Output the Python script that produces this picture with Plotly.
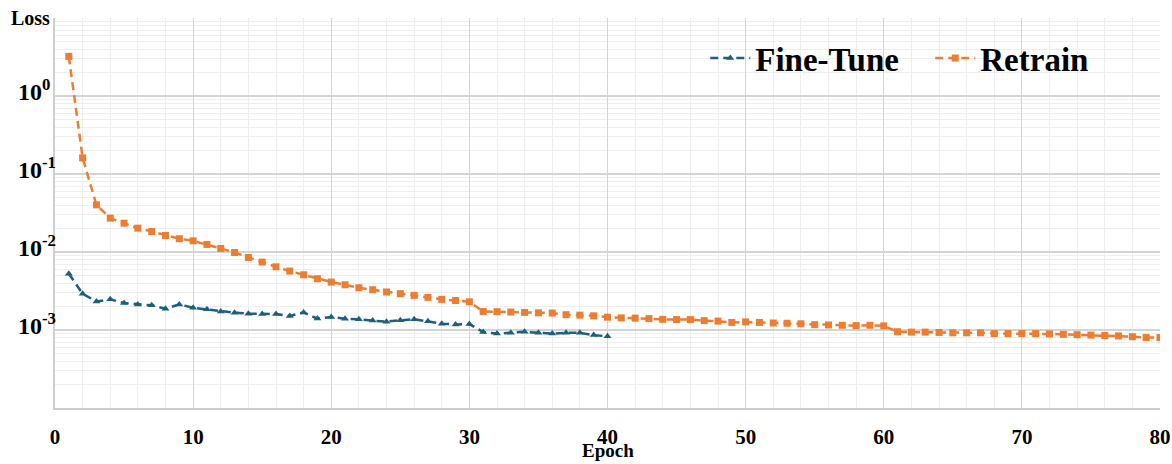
import math
import plotly.graph_objects as go

epochs_ft = list(range(1, 41))
loss_ft = [0.00526, 0.00292, 0.00232, 0.00247, 0.00222, 0.00213, 0.00207, 0.00187, 0.00213, 0.00193,
           0.00184, 0.00173, 0.00167, 0.00162, 0.00160, 0.00160, 0.00151, 0.00168, 0.00140, 0.00147,
           0.00139, 0.00137, 0.00132, 0.00128, 0.00133, 0.00137, 0.00129, 0.00120, 0.00118, 0.00119,
           0.00094, 0.00090, 0.00092, 0.00095, 0.00092, 0.00090, 0.00092, 0.00092, 0.00086, 0.00083]

epochs_rt = list(range(1, 81))
loss_rt = [3.22, 0.161, 0.0402, 0.0272, 0.0234, 0.0202, 0.0183, 0.0163, 0.0148, 0.0139,
           0.0125, 0.0111, 0.00986, 0.00851, 0.00743, 0.00646, 0.00569, 0.0051, 0.00454, 0.00412,
           0.0038, 0.00348, 0.00328, 0.00307, 0.00292, 0.00278, 0.00262, 0.00247, 0.00239, 0.0023,
           0.00173, 0.00172, 0.00170, 0.00168, 0.00166, 0.00165, 0.00157, 0.00155, 0.00152, 0.00146,
           0.00143, 0.00142, 0.00140, 0.00137, 0.00136, 0.00136, 0.00132, 0.00130, 0.00125, 0.00127,
           0.00125, 0.00123, 0.00122, 0.00120, 0.00117, 0.00116, 0.00115, 0.00114, 0.00115, 0.00113,
           0.00095, 0.00094, 0.00094, 0.00093, 0.00092, 0.00092, 0.00092, 0.00090, 0.00090, 0.00090,
           0.00090, 0.00089, 0.00088, 0.00087, 0.00086, 0.00085, 0.00084, 0.00082, 0.00080, 0.00080]

y_tickvals = [10, 1, 0.1, 0.01, 0.001, 0.0001]
y_label_vals = [1, 0.1, 0.01, 0.001]
y_label_text = ["10<sup>0</sup>", "10<sup>-1</sup>", "10<sup>-2</sup>", "10<sup>-3</sup>"]
x_tickvals = [0, 10, 20, 30, 40, 50, 60, 70, 80]

BLUE = "#1c5f7e"
ORANGE = "#ed7d31"
FONT = "Liberation Serif"

minor_y = [m * 10 ** e for e in range(-4, 1) for m in range(2, 10)]
minor_x = list(range(0, 81, 2))

fig = go.Figure()
fig.add_trace(go.Scatter(
    x=epochs_ft, y=loss_ft, name="Fine-Tune", mode="lines+markers",
    line=dict(color=BLUE, width=2.5, dash="8px,5px"),
    marker=dict(symbol="triangle-up", size=7, color=BLUE),
))
fig.add_trace(go.Scatter(
    x=epochs_rt, y=loss_rt, name="Retrain", mode="lines+markers",
    line=dict(color=ORANGE, width=2.5, dash="8px,5px"),
    marker=dict(symbol="square", size=7, color=ORANGE),
))

annotations = [
    dict(text="Loss", xref="paper", yref="paper", x=-0.003, y=1.0, xanchor="right", yanchor="middle",
         showarrow=False, font=dict(family=FONT, size=20, weight="bold", color="black")),
    dict(text="Epoch", xref="paper", yref="paper", x=0.5, y=-0.108, xanchor="center", yanchor="middle",
         showarrow=False, font=dict(family=FONT, size=19, weight="bold", color="black")),
]
# left-aligned y tick labels, as in the reference
for v, t in zip(y_label_vals, y_label_text):
    annotations.append(dict(
        text=t, xref="paper", yref="y", x=-0.0353, y=math.log10(v), xanchor="left", yanchor="middle",
        yshift=6, showarrow=False, font=dict(family=FONT, size=24, weight="bold", color="black"),
    ))

fig.update_layout(
    width=1172, height=464,
    margin=dict(l=55, r=12, t=18, b=56, autoexpand=False),
    paper_bgcolor="white", plot_bgcolor="white",
    font=dict(family=FONT, color="black"),
    showlegend=True,
    legend=dict(
        orientation="h", x=0.5885, xanchor="left", y=0.897, yanchor="middle",
        bgcolor="rgba(0,0,0,0)", font=dict(family=FONT, size=33, weight="bold", color="black"),
        itemwidth=40, tracegroupgap=0, entrywidth=170, entrywidthmode="pixels",
    ),
    xaxis=dict(
        range=[0, 80], tickmode="array", tickvals=x_tickvals, automargin=False,
        tickfont=dict(family=FONT, size=21, weight="bold", color="black"),
        showgrid=True, gridcolor="#d4d4d4", gridwidth=1,
        showline=True, linecolor="#cfcfcf", linewidth=1.5,
        ticks="", ticklabelstandoff=9, zeroline=False,
        minor=dict(tickmode="array", tickvals=minor_x, showgrid=True, gridcolor="#eeeeee", gridwidth=1),
    ),
    yaxis=dict(
        type="log", range=[-4, 1], tickmode="array", tickvals=y_tickvals,
        showticklabels=False, automargin=False,
        showgrid=True, gridcolor="#d4d4d4", gridwidth=1.5,
        showline=True, linecolor="#cfcfcf", linewidth=1.5,
        ticks="", zeroline=False,
        minor=dict(tickmode="array", tickvals=minor_y, showgrid=True, gridcolor="#eeeeee", gridwidth=1),
    ),
    annotations=annotations,
)

fig.write_html("out.html", config={"displayModeBar": False},
               post_script="document.body.style.margin='0';document.body.style.overflow='hidden';")
